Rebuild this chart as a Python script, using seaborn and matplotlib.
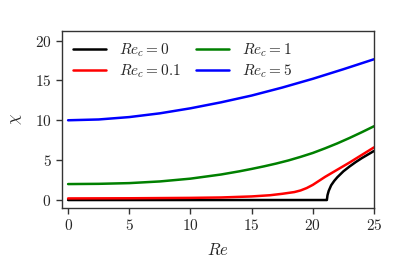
import numpy as np
import pandas as pd
import seaborn as sns
import matplotlib.pyplot as plt

# values
re_black = [0, 5, 10, 15, 20, 21.1, 21.15, 21.2, 21.3, 21.5, 21.75, 22, 22.5, 23, 23.5, 24, 24.5, 25]
chi_black = [0, 0, 0, 0, 0, 0, 0, 0.6, 1.15, 1.85, 2.4, 2.85, 3.6, 4.2, 4.75, 5.25, 5.7, 6.15]

re_red = [0, 5, 10, 12.5, 15, 16.5, 17.5, 18.5, 19, 19.5, 20, 20.5, 21, 21.5, 22, 22.5, 23, 24, 25]
chi_red = [0.2, 0.22, 0.27, 0.32, 0.45, 0.6, 0.78, 1.0, 1.2, 1.5, 1.9, 2.4, 2.9, 3.35, 3.8, 4.25, 4.7, 5.65, 6.6]

re_green = [0, 2.5, 5, 7.5, 10, 12.5, 14, 15, 16, 17, 18, 19, 20, 21, 22, 23, 24, 25]
chi_green = [2.0, 2.03, 2.12, 2.33, 2.68, 3.2, 3.6, 3.9, 4.22, 4.57, 4.96, 5.41, 5.9, 6.48, 7.1, 7.78, 8.5, 9.25]

re_blue = [0, 2.5, 5, 7.5, 10, 12.5, 15, 17.5, 20, 22.5, 25]
chi_blue = [10.0, 10.1, 10.4, 10.87, 11.5, 12.25, 13.1, 14.1, 15.2, 16.4, 17.65]

labels = [r'$Re_c = 0$', r'$Re_c = 0.1$', r'$Re_c = 1$', r'$Re_c = 5$']
colors = ['black', 'red', 'green', 'blue']

frames = []
for lab, x, y in zip(labels, [re_black, re_red, re_green, re_blue],
                     [chi_black, chi_red, chi_green, chi_blue]):
    frames.append(pd.DataFrame({'Re': x, 'chi': y, 'case': lab}))
df = pd.concat(frames, ignore_index=True)

sns.set_style('ticks')
plt.rcParams['font.family'] = 'serif'
plt.rcParams['font.serif'] = ['cmr10', 'DejaVu Serif']
plt.rcParams['mathtext.fontset'] = 'cm'
plt.rcParams['axes.formatter.use_mathtext'] = True
plt.rcParams['axes.unicode_minus'] = False

fig = plt.figure(figsize=(4.16, 2.6), dpi=100)
ax = fig.add_axes([0.149, 0.2, 0.75, 0.681])

sns.lineplot(data=df, x='Re', y='chi', hue='case', palette=colors,
             linewidth=1.8, ax=ax, sort=False, estimator=None)

ax.set_xlim(-0.5, 25)
ax.set_ylim(-1, 21.2)
ax.set_xticks([0, 5, 10, 15, 20, 25])
ax.set_yticks([0, 5, 10, 15, 20])
ax.tick_params(labelsize=11, length=4, width=1, color='#333333')
for s in ax.spines.values():
    s.set_color('#333333')
    s.set_linewidth(1)

ax.set_xlabel(r'$Re$', fontsize=12, labelpad=6)
ax.set_ylabel(r'$\chi$', fontsize=12, labelpad=8)

ax.legend(ncol=2, frameon=False, loc='upper left', fontsize=11,
          handlelength=2.2, columnspacing=1.0, borderaxespad=0.3, labelspacing=0.2)

fig.savefig('out.png', dpi=100)
